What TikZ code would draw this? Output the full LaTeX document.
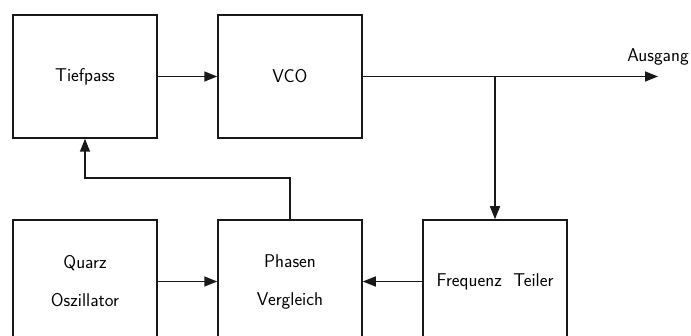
\documentclass[tikz,border=0pt]{standalone}
\usetikzlibrary{arrows.meta}
\begin{document}
\begin{tikzpicture}[x=1pt,y=-1pt,
  blk/.style={draw=black!90,line width=1.5pt,minimum width=144pt,minimum height=123pt,inner sep=0pt,
    font=\sffamily\fontsize{18.5}{38}\selectfont,align=center},
  arr/.style={draw=black!90,line width=1.5pt,-{Triangle[length=13pt,width=10pt]}},
  ln/.style={draw=black!90,line width=1.5pt}]
\useasboundingbox (0,0) rectangle (691,336);
\clip (0,0) rectangle (691,336);
\node[blk] (tp) at (85,76.5) {Tiefpass};
\node[blk] (vco) at (290,76.5) {VCO};
\node[blk] (qz) at (85,281.5) {Quarz\\Oszillator};
\node[blk] (pv) at (290,281.5) {Phasen\\Vergleich};
\node[blk] (ft) at (495,281.5) {Frequenz\ \ Teiler};
\coordinate (out) at (658,76.5);
\coordinate (j) at (495,76.5);
\node[font=\sffamily\fontsize{18.5}{20}\selectfont,inner sep=0pt] (ausg) at (658,57) {Ausgang};
\draw[arr] (tp.east) -- (vco.west);
\draw[arr] (vco.east) -- (out);
\draw[arr] (j) -- (ft.north);
\draw[arr] (pv.north) -- ++(0,-41) -| (tp.south);
\draw[arr] (qz.east) -- (pv.west);
\draw[arr] (ft.west) -- (pv.east);
\end{tikzpicture}
\end{document}
